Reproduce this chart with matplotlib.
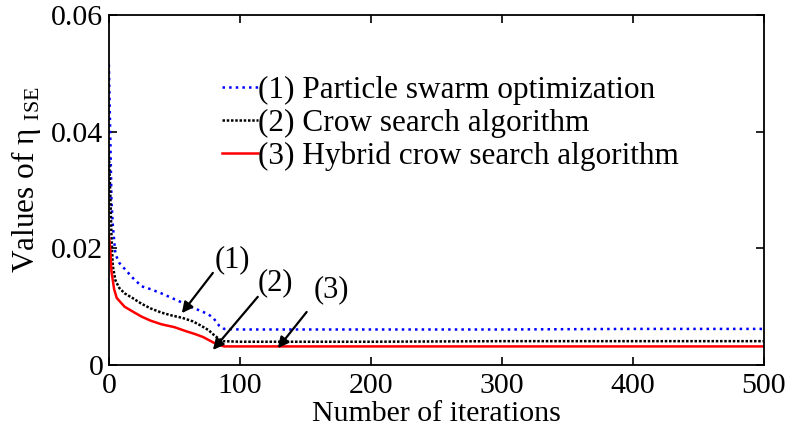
import matplotlib
matplotlib.use("Agg")
import matplotlib.pyplot as plt

plt.rcParams['font.family'] = ['Liberation Serif', 'DejaVu Serif']
plt.rcParams['mathtext.fontset'] = 'custom'
plt.rcParams['mathtext.rm'] = 'Liberation Serif'

# convergence curves, eta_ISE vs iteration
pso_x = [0, 1, 2, 3, 5, 8, 12, 18, 25, 32, 40, 48, 55, 62, 70, 76, 80, 84, 88, 100, 150, 200, 300, 400, 500]
pso_y = [0.0515, 0.040, 0.028, 0.024, 0.019, 0.0175, 0.0165, 0.0150, 0.0135, 0.0130, 0.0123, 0.0115,
         0.0108, 0.0100, 0.0093, 0.0087, 0.0080, 0.0068, 0.0062, 0.0061, 0.0061, 0.0061, 0.0061, 0.0062, 0.0062]

csa_x = [0, 1, 2, 3, 5, 8, 12, 18, 25, 32, 40, 48, 56, 64, 70, 76, 80, 84, 87, 100, 200, 300, 400, 500]
csa_y = [0.0365, 0.030, 0.022, 0.017, 0.0145, 0.0132, 0.0123, 0.0115, 0.0105, 0.0097, 0.0090, 0.0085,
         0.0081, 0.0075, 0.0068, 0.0060, 0.0052, 0.0045, 0.0041, 0.0040, 0.0040, 0.0041, 0.0041, 0.0041]

hcsa_x = [0, 1, 2, 4, 6, 8, 12, 18, 25, 32, 40, 50, 59, 66, 72, 77, 82, 88, 100, 200, 300, 400, 500]
hcsa_y = [0.0222, 0.020, 0.016, 0.013, 0.0115, 0.0110, 0.0100, 0.0092, 0.0083, 0.0076, 0.0070, 0.0065,
          0.0058, 0.0053, 0.0048, 0.0042, 0.0036, 0.0032, 0.0032, 0.0032, 0.0032, 0.0032, 0.0032]

labels = ['(1) Particle swarm optimization', '(2) Crow search algorithm', '(3) Hybrid crow search algorithm']

# arrow callouts: text, text pos, arrow tail, arrow tip
callouts = [
    ('(1)', (94, 0.0180), (79.4, 0.0158), (55.7, 0.0089)),
    ('(2)', (127, 0.0142), (113.7, 0.0117), (79.4, 0.0026)),
    ('(3)', (170, 0.0129), (151, 0.0091), (129, 0.0029)),
]

fig = plt.figure(figsize=(7.89, 4.29), dpi=100)
ax = fig.add_axes([0.138, 0.149, 0.830, 0.816])

ax.plot(pso_x, pso_y, color='#0000ff', linestyle=':', linewidth=1.8, label=labels[0])
ax.plot(csa_x, csa_y, color='black', linestyle=(0, (1, 0.7)), linewidth=1.8, label=labels[1])
ax.plot(hcsa_x, hcsa_y, color='#ff0000', linestyle='-', linewidth=1.8, label=labels[2])

for txt, tpos, tail, tip in callouts:
    ax.text(tpos[0], tpos[1], txt, fontsize=22, ha='center', va='center')
    ax.annotate('', xy=tip, xytext=tail,
                arrowprops=dict(arrowstyle='-|>', color='black', lw=1.6, mutation_scale=16,
                                shrinkA=0, shrinkB=0))

ax.set_xlim(0, 500)
ax.set_ylim(0, 0.06)
ax.set_xticks([0, 100, 200, 300, 400, 500])
ax.set_yticks([0, 0.02, 0.04, 0.06])
ax.set_yticklabels(['0', '0.02', '0.04', '0.06'])
ax.tick_params(direction='in', length=6, width=1.2, top=True, right=True, labelsize=21.5)
ax.tick_params(axis='x', pad=6)
ax.tick_params(axis='y', pad=4)
for sp in ax.spines.values():
    sp.set_linewidth(1.3)

ax.set_xlabel('Number of iterations', fontsize=21.5, labelpad=1)
ax.set_ylabel('Values of η $_{\\mathrm{ISE}}$', fontsize=22.5)
ax.yaxis.set_label_coords(-0.10, 0.529)

ax.legend(loc='upper left', bbox_to_anchor=(0.1725, 0.825), frameon=False, fontsize=22.5,
          handlelength=1.15, handletextpad=0.0, labelspacing=0.12, borderpad=0, borderaxespad=0)

fig.savefig('out.png', dpi=100)
